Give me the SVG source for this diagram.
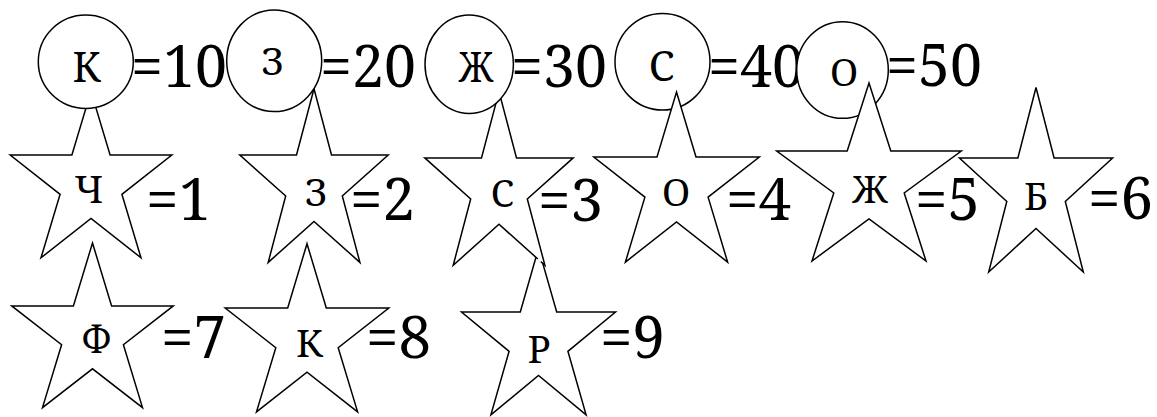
<svg xmlns="http://www.w3.org/2000/svg" width="1157" height="417" viewBox="0 0 1157 417">
<style>
.shape{fill:#fff;stroke:#000;stroke-width:1.5;stroke-linejoin:miter}
.let{font-family:'Noto Serif','DejaVu Serif',serif;font-size:38px;fill:#000;text-anchor:middle}
.big{font-size:42px}
.val{font-family:'Noto Serif','DejaVu Serif',serif;font-size:59px;fill:#000}
</style>
<rect width="1157" height="417" fill="#fff"/>
<g id="circle-s">
<ellipse class="shape" cx="662.5" cy="61.7" rx="47.5" ry="48.3"/>
<text class="let big" x="661.5" y="81">С</text>
<text class="val" x="708" y="87" textLength="96" lengthAdjust="spacingAndGlyphs">=40</text>
</g>
<g id="circle-o">
<ellipse class="shape" cx="842.5" cy="70" rx="45.8" ry="48.3"/>
<text class="let" x="844" y="86">О</text>
<text class="val" x="886" y="86" textLength="96" lengthAdjust="spacingAndGlyphs">=50</text>
</g>
<g id="star-r">
<polygon class="shape" points="538.5,248.4 556.7,312 615.5,312 567.9,351.3 586.1,414.8 538.5,375.5 490.9,414.8 509.1,351.3 461.5,312 520.3,312"/>
<text class="let" x="539" y="363">Р</text>
<text class="val" x="600" y="358" textLength="65" lengthAdjust="spacingAndGlyphs">=9</text>
</g>
<g id="star-f">
<polygon class="shape" points="92.5,243 111.6,305.9 173.3,305.9 123.4,344.7 142.5,407.6 92.5,368.8 42.5,407.6 61.6,344.7 11.7,305.9 73.4,305.9"/>
<text class="let" x="96.5" y="352" textLength="30" lengthAdjust="spacingAndGlyphs">Ф</text>
<text class="val" x="161" y="358" textLength="65" lengthAdjust="spacingAndGlyphs">=7</text>
</g>
<g id="star-k">
<polygon class="shape" points="307,243.7 326.3,308 388.8,308 338.2,347.7 357.6,411.9 307,372.2 256.5,411.9 275.8,347.7 225.2,308 287.7,308"/>
<text class="let" x="309.5" y="357">К</text>
<text class="val" x="366" y="358" textLength="65" lengthAdjust="spacingAndGlyphs">=8</text>
</g>
<g id="star-ch">
<polygon class="shape" points="91,91.4 110.1,155 171.8,155 121.9,194.3 141,257.8 91,218.5 41,257.8 60.1,194.3 10.2,155 71.9,155"/>
<text class="let" x="89" y="203">Ч</text>
<text class="val" x="146" y="220" textLength="65" lengthAdjust="spacingAndGlyphs">=1</text>
</g>
<g id="star-z">
<polygon class="shape" points="314,88.7 331.5,155 388.2,155 342.3,196 359.9,262.4 314,221.4 268.2,262.4 285.7,196 239.8,155 296.5,155"/>
<text class="let" x="316" y="206">З</text>
<text class="val" x="350" y="220" textLength="65" lengthAdjust="spacingAndGlyphs">=2</text>
</g>
<g id="star-s">
<polygon class="shape" points="499,91.6 516.5,157.9 573.2,157.9 527.3,198.9 544.9,265.3 499,224.3 453.2,265.3 470.7,198.9 424.8,157.9 481.5,157.9"/>
<line x1="537.8" y1="258.9" x2="540.8" y2="261.6" stroke="#fff" stroke-width="2.2"/>
<text class="let" x="502.5" y="207">С</text>
<text class="val" x="538" y="221" textLength="65" lengthAdjust="spacingAndGlyphs">=3</text>
</g>
<g id="star-o">
<polygon class="shape" points="676.5,92 696,157 759.3,157 708.1,197.1 727.6,262.1 676.5,221.9 625.4,262.1 644.9,197.1 593.8,157 657,157"/>
<text class="let" x="676" y="206">О</text>
<text class="val" x="726" y="220" textLength="65" lengthAdjust="spacingAndGlyphs">=4</text>
</g>
<g id="star-zh">
<polygon class="shape" points="869,83 890.8,151 961.3,151 904.2,193 926,261 869,219 812,261 833.8,193 776.7,151 847.2,151"/>
<text class="let" x="870" y="203" textLength="35" lengthAdjust="spacingAndGlyphs">Ж</text>
<text class="val" x="915" y="220" textLength="65" lengthAdjust="spacingAndGlyphs">=5</text>
</g>
<g id="star-b">
<polygon class="shape" points="1036,87.5 1054.1,158 1112.6,158 1065.3,201.5 1083.3,272 1036,228.5 988.7,272 1006.8,201.5 959.4,158 1017.9,158"/>
<text class="let" x="1036" y="210">Б</text>
<text class="val" x="1088" y="219" textLength="65" lengthAdjust="spacingAndGlyphs">=6</text>
</g>
<g id="circle-k">
<ellipse class="shape" cx="85.8" cy="61.7" rx="47.5" ry="46.7"/>
<text class="let big" x="86.5" y="82" textLength="28" lengthAdjust="spacingAndGlyphs">К</text>
<text class="val" x="131" y="87" textLength="96" lengthAdjust="spacingAndGlyphs">=10</text>
</g>
<g id="circle-z">
<ellipse class="shape" cx="274.2" cy="60.8" rx="47.5" ry="50.8"/>
<text class="let" x="272.5" y="75">З</text>
<text class="val" x="320" y="87" textLength="96" lengthAdjust="spacingAndGlyphs">=20</text>
</g>
<g id="circle-zh">
<ellipse class="shape" cx="469.2" cy="64.2" rx="44.2" ry="49.2"/>
<text class="let big" x="476" y="82" textLength="34" lengthAdjust="spacingAndGlyphs">Ж</text>
<text class="val" x="511" y="87" textLength="96" lengthAdjust="spacingAndGlyphs">=30</text>
</g>
</svg>
